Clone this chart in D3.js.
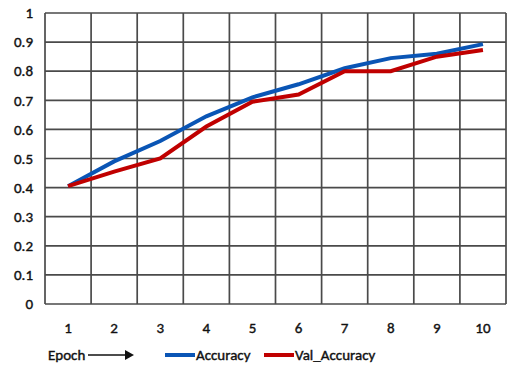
<!DOCTYPE html>
<html><head><meta charset="utf-8">
<script src="https://cdn.jsdelivr.net/npm/d3@7"></script>
<style>body{margin:0;background:#fff}text{font-family:Carlito,"Liberation Sans Narrow",Lato,sans-serif;stroke:#111;stroke-width:0.4px}</style>
</head><body><svg id="c" width="513" height="369"></svg>
<script>
const epochs = [1,2,3,4,5,6,7,8,9,10];
const accuracy = [0.405,0.49,0.56,0.645,0.71,0.755,0.81,0.845,0.86,0.893];
const valAccuracy = [0.405,0.455,0.50,0.61,0.695,0.72,0.80,0.80,0.85,0.873];
const yTicks = [0,0.1,0.2,0.3,0.4,0.5,0.6,0.7,0.8,0.9,1];
const seriesNames = ["Accuracy","Val_Accuracy"];
const colors = ["#0a55b5","#c00000"];

const svg = d3.select("#c");
const L=45,R=506,T=13,B=304;
const x = d3.scaleBand().domain(epochs).range([L,R]);
const y = d3.scaleLinear().domain([0,1]).range([B,T]);
const g = svg.append("g");
// grid
g.selectAll(".h").data(yTicks).join("line").attr("x1",L).attr("x2",R)
 .attr("y1",d=>y(d)).attr("y2",d=>y(d)).attr("stroke","#4a4a4a").attr("stroke-width",1.7);
const vx = epochs.map(e=>x(e)).concat([R]);
g.selectAll(".v").data(vx).join("line").attr("x1",d=>d).attr("x2",d=>d)
 .attr("y1",T).attr("y2",B).attr("stroke","#4a4a4a").attr("stroke-width",1.7);
// y labels
g.selectAll(".yl").data(yTicks).join("text").attr("x",33).attr("y",d=>y(d)).attr("dy","0.35em")
 .attr("text-anchor","end").attr("font-size",15).attr("fill","#111").text(d=>d);
// x labels
g.selectAll(".xl").data(epochs).join("text").attr("x",d=>x(d)+x.bandwidth()/2).attr("y",328).attr("dy","0.35em")
 .attr("text-anchor","middle").attr("font-size",15).attr("fill","#111").text(d=>d);
// lines
const line = d3.line().x((d,i)=>x(epochs[i])+x.bandwidth()/2).y(d=>y(d));
[accuracy,valAccuracy].forEach((s,i)=>{
  g.append("path").attr("d",line(s)).attr("fill","none").attr("stroke",colors[i]).attr("stroke-width",4);
});
// legend
g.append("text").attr("x",48).attr("y",355).attr("dy","0.35em").attr("font-size",15).attr("fill","#111").text("Epoch");
g.append("line").attr("x1",88).attr("x2",126).attr("y1",355).attr("y2",355).attr("stroke","#111").attr("stroke-width",1.5);
g.append("path").attr("d","M125,350L134,355L125,360Z").attr("fill","#111");
const lx=[165,264];
seriesNames.forEach((n,i)=>{
  g.append("line").attr("x1",lx[i]).attr("x2",lx[i]+30).attr("y1",355).attr("y2",355).attr("stroke",colors[i]).attr("stroke-width",4);
  g.append("text").attr("x",lx[i]+31).attr("y",355).attr("dy","0.35em").attr("font-size",15).attr("fill","#111").text(n);
});
</script></body></html>
